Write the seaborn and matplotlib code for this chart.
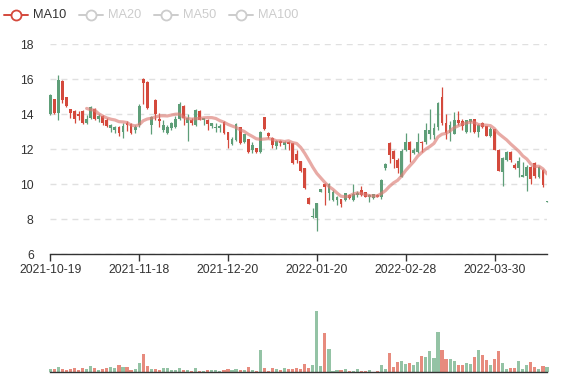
import numpy as np
import pandas as pd
import matplotlib
matplotlib.use("Agg")
import matplotlib.pyplot as plt
import seaborn as sns
from matplotlib.lines import Line2D

sns.set_theme(style="white")
plt.rcParams["font.family"] = ["Liberation Sans", "DejaVu Sans"]
plt.rcParams["lines.scale_dashes"] = False

# ---- categories: trading days (SSE calendar) ----
holidays = ["2022-01-03", "2022-01-31", "2022-02-01", "2022-02-02", "2022-02-03",
            "2022-02-04", "2022-04-04", "2022-04-05"]
dates = pd.bdate_range("2021-10-19", "2022-04-20", freq="C",
                       holidays=holidays).strftime("%Y-%m-%d").tolist()

# ---- OHLC + volume ----
opens = [14.0, 14.85, 14.05, 15.9, 15.0, 14.3, 14.2, 14.0, 14.2, 13.5,
         13.8, 14.3, 13.75, 13.9, 13.7, 13.2, 13.1, 13.3, 13.0, 13.5,
         13.45, 13.1, 13.4, 16.0, 15.85, 13.4, 14.8, 13.75, 13.1, 12.95,
         13.2, 13.3, 13.75, 14.5, 13.5, 13.7, 13.4, 14.2, 13.65, 13.7,
         13.35, 13.2, 13.2, 13.54, 13.0, 12.3, 12.53, 13.29, 12.44, 12.57,
         11.96, 12.06, 11.86, 13.83, 12.95, 12.63, 12.2, 12.5, 12.25, 12.44,
         12.34, 11.73, 11.33, 10.91, 9.24, 8.15, 8.1, 9.58, 10.0, 9.5,
         9.1, 9.1, 9.15, 9.1, 9.39, 9.1, 9.37, 9.7, 9.55, 9.26,
         9.2, 9.4, 9.3, 10.95, 12.34, 11.92, 11.39, 10.44, 11.96, 12.43,
         11.8, 11.86, 12.43, 12.4, 12.9, 12.8, 13.29, 15.0, 13.48, 12.95,
         12.9, 13.7, 13.6, 13.0, 13.58, 13.71, 13.0, 13.52, 13.33, 12.76,
         13.14, 11.96, 10.72, 11.4, 11.87, 11.1, 10.91, 10.44, 10.5, 11.0,
         11.24, 10.4, 10.8, 8.99]
closes = [15.1, 14.05, 15.95, 14.8, 14.45, 14.1, 13.75, 13.9, 13.5, 13.75,
          14.4, 13.75, 13.9, 13.5, 13.35, 13.4, 13.3, 12.95, 13.35, 13.4,
          12.95, 13.3, 14.5, 15.8, 14.35, 13.85, 14.0, 13.6, 13.4, 13.3,
          13.5, 13.75, 14.6, 13.8, 13.8, 13.5, 14.25, 13.7, 13.77, 13.45,
          13.48, 13.25, 13.35, 12.95, 12.53, 12.6, 13.43, 12.34, 12.86, 11.86,
          12.25, 11.86, 13.01, 13.14, 12.76, 12.25, 12.5, 12.35, 12.44, 12.3,
          11.2, 11.39, 10.76, 9.77, 8.9, 8.2, 8.92, 9.73, 9.87, 10.0,
          9.58, 9.3, 8.9, 9.49, 9.22, 9.45, 9.49, 9.4, 9.3, 9.4,
          9.43, 9.3, 10.25, 11.15, 11.67, 11.44, 10.91, 11.92, 12.43, 11.96,
          11.96, 12.43, 12.34, 13.1, 13.1, 13.2, 14.63, 13.48, 12.91, 13.4,
          13.7, 13.52, 13.35, 13.68, 13.71, 13.0, 13.39, 13.26, 12.78, 13.14,
          11.96, 10.78, 11.49, 11.87, 11.39, 10.94, 11.35, 10.53, 11.0, 10.3,
          10.5, 10.97, 9.95, 9.01]
lows = [13.95, 14.0, 13.7, 14.63, 14.4, 13.8, 13.5, 13.7, 13.45, 13.45,
        13.75, 13.7, 13.55, 13.4, 13.25, 13.0, 12.95, 12.75, 12.65, 13.05,
        12.85, 12.95, 13.3, 14.6, 14.3, 12.9, 13.65, 13.3, 13.0, 12.9,
        13.1, 13.2, 13.7, 13.4, 12.5, 13.4, 13.35, 13.65, 13.4, 13.1,
        13.2, 13.0, 13.0, 12.9, 12.1, 12.25, 12.45, 12.3, 12.35, 11.8,
        11.77, 11.8, 11.8, 13.1, 12.63, 12.1, 12.0, 12.2, 12.0, 11.96,
        11.18, 11.2, 10.72, 9.75, 8.88, 8.1, 7.34, 9.55, 8.82, 9.1,
        9.05, 8.82, 8.72, 9.05, 9.15, 9.05, 9.3, 9.35, 9.25, 9.01,
        9.15, 9.25, 9.15, 10.8, 11.23, 10.91, 10.63, 10.4, 11.9, 11.29,
        11.75, 11.8, 11.86, 12.3, 12.6, 12.6, 13.1, 13.4, 12.6, 12.5,
        12.85, 13.4, 13.1, 12.95, 13.0, 12.95, 12.72, 13.2, 12.75, 12.7,
        11.95, 10.75, 9.9, 11.35, 11.3, 10.86, 10.44, 10.4, 9.64, 10.0,
        10.34, 10.34, 9.87, 8.98]
highs = [15.15, 14.9, 16.25, 15.96, 15.0, 14.3, 14.25, 14.2, 14.25, 13.95,
         14.5, 14.35, 14.0, 13.95, 13.8, 13.45, 13.35, 13.35, 13.5, 13.6,
         13.5, 13.4, 14.6, 16.05, 15.9, 13.9, 14.85, 14.05, 13.7, 13.4,
         13.55, 13.9, 14.7, 14.55, 14.0, 13.8, 14.3, 14.25, 13.8, 13.75,
         13.52, 13.5, 13.43, 13.6, 13.0, 12.72, 13.48, 13.3, 12.9, 12.6,
         12.4, 12.1, 13.05, 13.85, 13.0, 12.68, 12.52, 12.52, 12.48, 12.48,
         12.36, 11.96, 11.35, 10.93, 9.26, 8.63, 8.94, 9.75, 10.05, 10.05,
         9.7, 9.35, 9.18, 9.52, 9.42, 10.0, 9.6, 9.9, 9.58, 9.42,
         9.45, 9.45, 10.3, 11.2, 12.4, 11.95, 11.5, 12.0, 12.91, 12.5,
         12.05, 12.91, 12.5, 13.48, 14.28, 13.5, 14.7, 15.58, 14.0, 13.6,
         14.15, 14.21, 13.71, 13.7, 13.75, 13.75, 13.45, 13.55, 13.35, 13.26,
         13.15, 12.0, 11.55, 11.9, 11.9, 11.24, 11.54, 11.3, 11.1, 11.05,
         11.3, 11.05, 10.85, 9.02]
volumes = [3, 3, 4.7, 2.7, 2, 3, 3.7, 2, 4, 2.7,
           6.3, 4, 2, 2.7, 3.7, 4.7, 4, 6.7, 4.7, 5,
           2, 3, 9, 17.7, 5.7, 3, 3, 2, 3.7, 3.7,
           2, 2.3, 4.3, 2, 2, 1, 4, 0.7, 0.7, 2.3,
           1.7, 1.7, 1.3, 1.7, 2.7, 1.7, 2.7, 2, 2, 5,
           1.7, 1.3, 21.7, 3.7, 1, 3.7, 3, 1.7, 4, 2.7,
           2.7, 3.7, 3, 8, 3.7, 7, 61, 5.7, 39.3, 22.7,
           1, 2, 2, 2.7, 1, 1, 2.7, 1.3, 1.3, 2,
           0.5, 1, 7.3, 3.3, 18.7, 5, 9.7, 11.3, 7.7, 9.3,
           7.3, 10, 16, 15.3, 21, 14.3, 40.3, 22, 12.7, 12.7,
           11.3, 7.3, 7, 9, 8, 15.3, 21.7, 17.3, 12, 7.3,
           13, 21, 9, 3, 4.3, 3.7, 11, 3, 7, 10,
           5.3, 3, 6, 5.3]

legend_names = ["MA10", "MA20", "MA50", "MA100"]

df = pd.DataFrame({"date": dates, "open": opens, "close": closes,
                   "low": lows, "high": highs, "volume": volumes})
df["idx"] = np.arange(len(df))
df["dir"] = np.where(df["close"] >= df["open"], "up", "down")
df["ma10"] = df["close"].rolling(10).mean()

RED, GREEN = "#d4493c", "#5e9e78"
RED_L, GREEN_L = "#e78b7e", "#94c3a5"
cols = np.where(df["dir"] == "up", GREEN, RED)

W, H = 577, 380
fig = plt.figure(figsize=(W / 100, H / 100), dpi=100)
x0, x1 = 50.3, 547.0
ax = fig.add_axes([x0 / W, (H - 254.3) / H, (x1 - x0) / W, 210 / H])
axv = fig.add_axes([x0 / W, (H - 372) / H, (x1 - x0) / W, 72 / H])

# grid
ax.set_ylim(6, 18)
ax.set_yticks(np.arange(6, 19, 2))
ax.yaxis.grid(True, color="#e0e0e0", lw=1, ls=(0, (4.3, 3.6)))
ax.set_axisbelow(True)

# candles
ax.vlines(df["idx"], df["low"], df["high"], colors=cols, lw=0.9, clip_on=False, zorder=2)
body_lo = np.minimum(df["open"], df["close"])
body_h = np.maximum(np.abs(df["close"] - df["open"]), 0.05)
ax.bar(df["idx"], body_h, bottom=body_lo, width=0.7, color=cols, lw=0,
       clip_on=False, zorder=3)

# MA10
sns.lineplot(data=df, x="idx", y="ma10", ax=ax, color="#dc7d75", alpha=0.65,
             lw=2.3, zorder=4)
ax.set_xlim(0, len(df) - 1)
ax.set_xlabel("")
ax.set_ylabel("")

tick_pos = df["idx"].tolist()[::22]
ax.set_xticks(tick_pos)
ax.set_xticklabels([dates[i] for i in tick_pos])
for s in ["top", "right", "left"]:
    ax.spines[s].set_visible(False)
ax.spines["bottom"].set_color("#333333")
ax.spines["bottom"].set_linewidth(1)
ax.tick_params(axis="x", bottom=True, length=5, width=1, color="#333333",
               labelsize=8.7, labelcolor="#333333", pad=2)
ax.tick_params(axis="y", left=False, labelsize=8.7, labelcolor="#333333", pad=6)

# volume
sns.barplot(data=df, x="idx", y="volume", hue="dir", ax=axv, native_scale=True,
            palette={"up": GREEN_L, "down": RED_L}, width=0.78, legend=False,
            saturation=1, linewidth=0)
for p in axv.patches:
    p.set_clip_on(False)
axv.set_xlim(0, len(df) - 1)
axv.set_ylim(0, 72)
axv.set_xticks([])
axv.set_yticks([])
axv.set_xlabel("")
axv.set_ylabel("")
for s in ["top", "right", "left"]:
    axv.spines[s].set_visible(False)
axv.spines["bottom"].set_color("#333333")
axv.spines["bottom"].set_linewidth(1)

# legend (top-left)
ly = 1 - 15 / H
items = [(4, 33), (79, 108), (154, 183), (229, 258)]
for k, (lx, tx) in enumerate(items):
    c = RED if k == 0 else "#cccccc"
    tc = "#333333" if k == 0 else "#cccccc"
    fig.add_artist(Line2D([lx / W, (lx + 24) / W], [ly, ly], color=c, lw=1.4))
    fig.add_artist(Line2D([(lx + 12) / W], [ly], marker="o", ms=7.2, mfc="white",
                          mec=c, mew=1.3, lw=0))
    fig.text(tx / W, ly, legend_names[k], color=tc, fontsize=9.2, va="center", ha="left")

fig.savefig("out.png", dpi=100)
